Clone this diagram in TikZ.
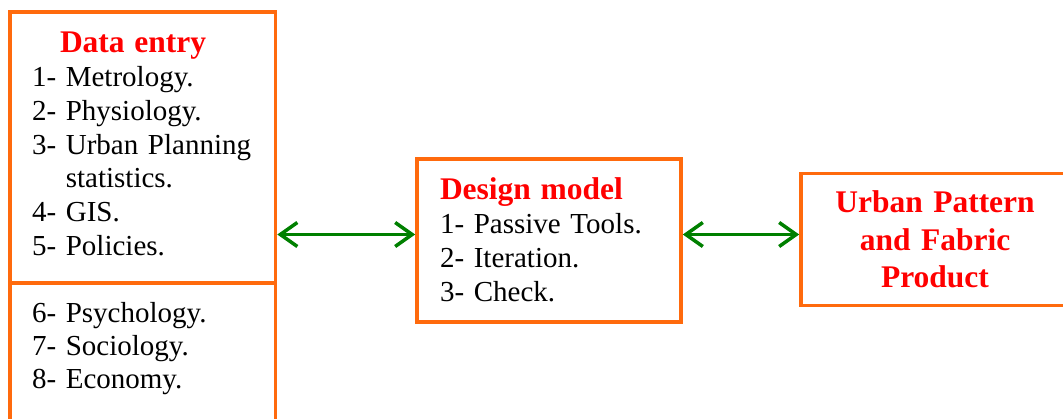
\documentclass[tikz,border=0pt]{standalone}
\usepackage{fontspec}
\setmainfont{Liberation Serif}
\usetikzlibrary{arrows.meta,positioning}
\definecolor{boxor}{HTML}{FF6A0D}
\definecolor{headred}{HTML}{FF0000}
\definecolor{linkgr}{HTML}{008000}
\newcommand{\hd}[1]{{\color{headred}\bfseries\fontsize{31.5}{33.7}\selectfont #1}}
\tikzset{
  panel/.style={rectangle, draw=boxor, line width=3.6pt, outer sep=0pt, inner ysep=0pt,
                align=left, font=\rmfamily\fontsize{29}{33.7}\selectfont},
  link/.style={{Straight Barb[length=17pt,width=24pt]}-{Straight Barb[length=17pt,width=24pt]},
               line width=3.5pt, draw=linkgr, shorten <=1.8pt, shorten >=1.8pt},
}

\begin{document}
\begin{tikzpicture}[x=1pt, y=-1pt]
    \useasboundingbox (0,0) rectangle (1063,419);
    \clip (0,0) rectangle (1063,419);
    \node[panel, text width=221.5pt, inner xsep=22pt, text height=41pt, text depth=230pt,
          anchor=base west] (entry) at (10,53)
      {\hspace*{28pt}\hd{Data entry}\\
       1- Metrology.\\
       2- Physiology.\\
       3- Urban Planning\\
       \phantom{3- }statistics.\\
       4- GIS.\\
       5- Policies.};
    \node[panel, text width=221.5pt, inner xsep=22pt, text height=40pt, text depth=137pt,
          font=\rmfamily\fontsize{29}{33}\selectfont, below=0pt of entry] (entrylow)
      {6- Psychology.\\
       7- Sociology.\\
       8- Economy.};
    \node[panel, text width=218pt, inner xsep=23pt, text height=41pt, text depth=122pt,
          anchor=base west] (design) at (417,200)
      {\hd{Design model}\\
       1- Passive Tools.\\
       2- Iteration.\\
       3- Check.};
    \node[panel, text width=248pt, inner xsep=10pt, text height=39.5pt, text depth=92.5pt,
          align=center, font=\rmfamily\fontsize{31.5}{37.5}\selectfont\bfseries\color{headred},
          anchor=base west] (product) at (801,213)
      {Urban Pattern\\and Fabric\\Product};
    \draw[link] ([yshift=6pt]design.west -| entry.east) -- ([yshift=6pt]design.west);
    \draw[link] ([yshift=6pt]design.east) -- ([yshift=6pt]design.east -| product.west);
  \end{tikzpicture}
\end{document}
